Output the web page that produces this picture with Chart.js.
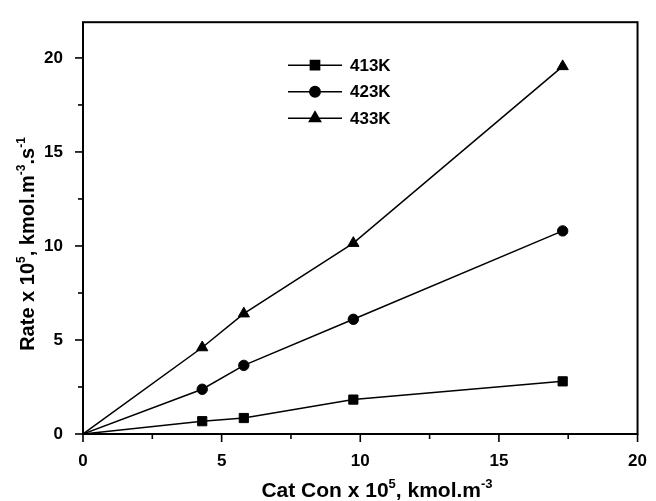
<!DOCTYPE html>
<html>
<head>
<meta charset="utf-8">
<script src="https://cdn.jsdelivr.net/npm/chart.js@4.4.0/dist/chart.umd.min.js"></script>
<style>
  html, body { margin: 0; padding: 0; background: #fff; }
  #wrap { width: 656px; height: 501px; }
</style>
</head>
<body>
<div id="wrap"><canvas id="rateChart" width="656" height="501"></canvas></div>
<script>
// catalyst concentration (x 10^5 kmol/m3), first point = origin of the lines
const catCon = [0, 4.3, 5.8, 9.75, 17.3];
const rate413 = [0, 0.68, 0.85, 1.83, 2.8];
const rate423 = [0, 2.38, 3.65, 6.1, 10.8];
const rate433 = [0, 4.6, 6.4, 10.15, 19.55];
const seriesNames = ['413K', '423K', '433K'];
const xTicks = [0, 5, 10, 15, 20];
const yTicks = [0, 5, 10, 15, 20];

const FONT = '"Liberation Sans", Arial, sans-serif';

function pts(ys) {
    return catCon.map((x, i) => ({ x: x, y: ys[i] }));
}

// draws text with superscript parts: [[text, isSup], ...]
function richText(ctx, parts, size) {
    let x = 0;
    parts.forEach(p => {
        ctx.font = 'bold ' + (p[1] ? Math.round(size * 0.6) : size) + 'px ' + FONT;
        ctx.fillText(p[0], x, p[1] ? -size * 0.45 : 0);
        x += ctx.measureText(p[0]).width;
    });
    return x;
}
function richWidth(ctx, parts, size) {
    let w = 0;
    parts.forEach(p => {
        ctx.font = 'bold ' + (p[1] ? Math.round(size * 0.6) : size) + 'px ' + FONT;
        w += ctx.measureText(p[0]).width;
    });
    return w;
}

const framePlugin = {
    id: 'frame',
    afterDraw(chart) {
        const ctx = chart.ctx;
        const a = chart.chartArea;
        const xs = chart.scales.x, ys = chart.scales.y;
        ctx.save();
        ctx.strokeStyle = '#000';
        ctx.fillStyle = '#000';

        // box
        ctx.lineWidth = 2;
        ctx.strokeRect(a.left, a.top, a.right - a.left, a.bottom - a.top);

        // ticks outward, minor every 2.5
        ctx.lineWidth = 1.6;
        for (let v = 0; v <= 20; v += 2.5) {
            const len = v % 5 === 0 ? 8 : 5;
            const px = xs.getPixelForValue(v);
            ctx.beginPath(); ctx.moveTo(px, a.bottom); ctx.lineTo(px, a.bottom + len); ctx.stroke();
            const py = ys.getPixelForValue(v);
            ctx.beginPath(); ctx.moveTo(a.left, py); ctx.lineTo(a.left - len, py); ctx.stroke();
        }

        // legend: line - marker - line  label
        const lx = a.left + 205, ly = a.top + 43;
        chart.data.datasets.forEach((ds, i) => {
            const y = ly + i * 26.5;
            ctx.lineWidth = 1.5;
            ctx.beginPath(); ctx.moveTo(lx, y); ctx.lineTo(lx + 54, y); ctx.stroke();
            Chart.helpers.drawPoint(ctx, {
                pointStyle: ds.pointStyle, radius: ds.legendRadius, rotation: 0, borderWidth: 1
            }, lx + 27, y);
            ctx.fill();
            ctx.font = 'bold 17px ' + FONT;
            ctx.textBaseline = 'middle';
            ctx.textAlign = 'left';
            ctx.fillText(ds.label, lx + 62, y + 1);
        });

        // axis titles
        ctx.textAlign = 'left';
        ctx.textBaseline = 'alphabetic';
        const xt = [['Cat Con x 10', false], ['5', true], [', kmol.m', false], ['-3', true]];
        const wx = richWidth(ctx, xt, 21);
        ctx.save();
        ctx.translate(377 - wx / 2, 497);
        richText(ctx, xt, 21);
        ctx.restore();

        const yt = [['Rate x 10', false], ['5', true], [', kmol.m', false], ['-3', true], ['.s', false], ['-1', true]];
        const wy = richWidth(ctx, yt, 20);
        ctx.save();
        ctx.translate(34, 244 + wy / 2);
        ctx.rotate(-Math.PI / 2);
        richText(ctx, yt, 20);
        ctx.restore();

        ctx.restore();
    }
};

function lineSet(label, ys, style, r) {
    return {
        label: label,
        data: pts(ys),
        borderColor: '#000',
        backgroundColor: '#000',
        borderWidth: 1.5,
        pointStyle: style,
        pointRadius: catCon.map((x, i) => i === 0 ? 0 : r),
        legendRadius: r,
        pointBorderWidth: 1,
        tension: 0,
        fill: false
    };
}

new Chart(document.getElementById('rateChart'), {
    type: 'line',
    data: {
        datasets: [
            lineSet(seriesNames[0], rate413, 'rect', 6.5),
            lineSet(seriesNames[1], rate423, 'circle', 5.2),
            lineSet(seriesNames[2], rate433, 'triangle', 6.5)
        ]
    },
    options: {
        responsive: false,
        animation: false,
        layout: { padding: { top: 14, right: 13, left: 0, bottom: 0 } },
        plugins: { legend: { display: false }, tooltip: { enabled: false } },
        scales: {
            x: {
                type: 'linear',
                min: 0, max: 20,
                grid: { display: false },
                border: { display: false },
                ticks: {
                    stepSize: 5,
                    padding: 9,
                    color: '#000',
                    font: { family: FONT, size: 17, weight: 'bold' },
                    callback: v => xTicks.includes(v) ? v : ''
                },
                afterFit: s => { s.height = 67; }
            },
            y: {
                min: 0, max: 21.9,
                grid: { display: false },
                border: { display: false },
                ticks: {
                    stepSize: 5,
                    padding: 12,
                    color: '#000',
                    font: { family: FONT, size: 17, weight: 'bold' },
                    callback: v => yTicks.includes(v) ? v : ''
                },
                afterFit: s => { s.width = 83; }
            }
        }
    },
    plugins: [framePlugin]
});
</script>
</body>
</html>
